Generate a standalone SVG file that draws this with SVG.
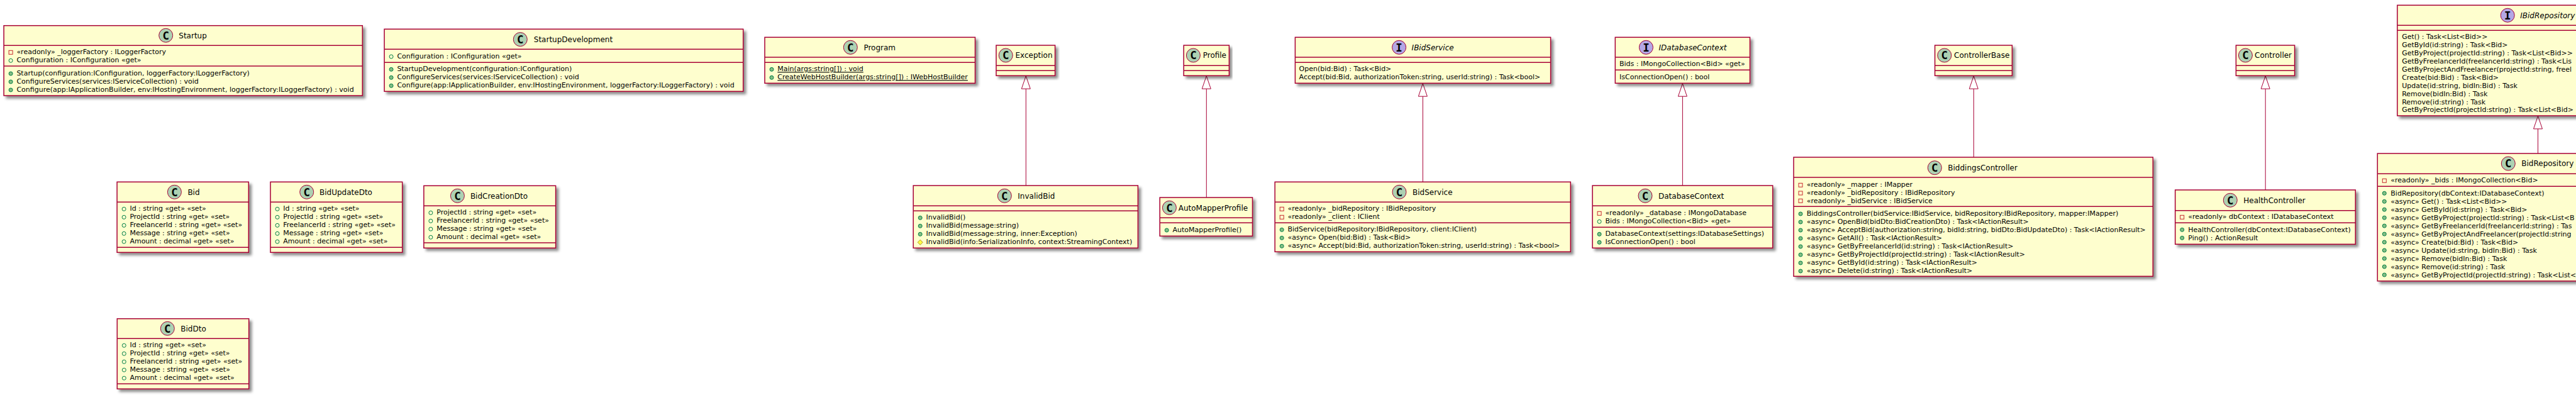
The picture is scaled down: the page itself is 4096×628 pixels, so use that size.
<svg xmlns="http://www.w3.org/2000/svg" width="4096" height="628" viewBox="0 0 4096 628">
<style>
text{font-family:"DejaVu Sans",sans-serif;fill:#000}
.b{fill:#FEFECE;stroke:#A80036;stroke-width:1.5;filter:url(#sh)}
.s{stroke:#A80036;stroke-width:1.5}
.c{fill:#ADD1B2;stroke:#A80036;stroke-width:1}
.i{fill:#B4A7E5;stroke:#A80036;stroke-width:1}
.g{font-family:"DejaVu Sans Mono",monospace;font-weight:700;font-size:17.5px;text-anchor:middle;transform:translateY(.9px)}
.t{font-size:12px}
.ti{font-size:12px;font-style:italic}
.m{font-size:11px}
.u{font-size:11px;text-decoration:underline}
.e{stroke:#A80036;stroke-width:1;fill:none;marker-end:url(#ext)}
</style>
<defs>
<filter id="sh" x="-5%" y="-10%" width="112%" height="125%"><feDropShadow dx="4" dy="4" stdDeviation="2" flood-color="#000" flood-opacity="0.45"/></filter>
<marker id="ext" markerUnits="userSpaceOnUse" markerWidth="23" markerHeight="16" viewBox="0 0 23 16" refX="21.5" refY="8" orient="auto"><path d="M1,1 L21.5,8 L1,15 Z" fill="#fff" stroke="#A80036" stroke-width="1"/></marker>
<rect id="pri" x="-3" y="-3" width="6" height="6" fill="none" stroke="#C82930"/>
<circle id="fld" r="3" fill="none" stroke="#038048"/>
<circle id="pub" r="3" fill="#84BE84" stroke="#038048"/>
<polygon id="pro" points="0,-4 4,0 0,4 -4,0" fill="#FFFF44" stroke="#B38D22"/>
</defs>
<g id="connectors">
<line class="e" x1="1631.3" y1="295" x2="1631.3" y2="120.7"/>
<line class="e" x1="1918.3" y1="314" x2="1918.3" y2="120.7"/>
<line class="e" x1="2262.4" y1="289.3" x2="2262.4" y2="132.7"/>
<line class="e" x1="2675.4" y1="295" x2="2675.4" y2="132.7"/>
<line class="e" x1="3138.3" y1="250" x2="3138.3" y2="120.7"/>
<line class="e" x1="3602.2" y1="302" x2="3602.2" y2="120.7"/>
<line class="e" x1="4035.5" y1="244" x2="4035.5" y2="184.4"/>
</g>
<g id="Startup">
<rect class="b" x="6.1" y="40.7" width="570.2" height="111.3"/>
<line class="s" x1="6.1" y1="72.3" x2="576.3" y2="72.3"/><line class="s" x1="6.1" y1="105" x2="576.3" y2="105"/>
<circle class="c" cx="263.7" cy="56.3" r="11"/><text class="g" x="263.7" y="61.8">C</text>
<text class="t" x="284.3" y="60.7">Startup</text>
<use href="#pri" x="17.1" y="83.3"/><text class="m" x="26.4" y="86.3">«readonly» _loggerFactory : ILoggerFactory</text>
<use href="#fld" x="17.1" y="96.3"/><text class="m" x="26.4" y="99.3">Configuration : IConfiguration «get»</text>
<use href="#pub" x="17.1" y="117"/><text class="m" x="26.4" y="120">Startup(configuration:IConfiguration, loggerFactory:ILoggerFactory)</text>
<use href="#pub" x="17.1" y="130"/><text class="m" x="26.4" y="133">ConfigureServices(services:IServiceCollection) : void</text>
<use href="#pub" x="17.1" y="143"/><text class="m" x="26.4" y="146">Configure(app:IApplicationBuilder, env:IHostingEnvironment, loggerFactory:ILoggerFactory) : void</text>
</g>
<g id="StartupDevelopment">
<rect class="b" x="611.1" y="46.3" width="570.6" height="99"/>
<line class="s" x1="611.1" y1="78.3" x2="1181.7" y2="78.3"/><line class="s" x1="611.1" y1="99.3" x2="1181.7" y2="99.3"/>
<circle class="c" cx="827.3" cy="62.6" r="11"/><text class="g" x="827.3" y="68.1">C</text>
<text class="t" x="848.8" y="67">StartupDevelopment</text>
<use href="#fld" x="622.1" y="90"/><text class="m" x="631.4" y="93">Configuration : IConfiguration «get»</text>
<use href="#pub" x="622.1" y="110.3"/><text class="m" x="631.4" y="113.3">StartupDevelopment(configuration:IConfiguration)</text>
<use href="#pub" x="622.1" y="123.3"/><text class="m" x="631.4" y="126.3">ConfigureServices(services:IServiceCollection) : void</text>
<use href="#pub" x="622.1" y="136.3"/><text class="m" x="631.4" y="139.3">Configure(app:IApplicationBuilder, env:IHostingEnvironment, loggerFactory:ILoggerFactory) : void</text>
</g>
<g id="Program">
<rect class="b" x="1216" y="59.3" width="334.5" height="73"/>
<line class="s" x1="1216" y1="91" x2="1550.5" y2="91"/><line class="s" x1="1216" y1="99.3" x2="1550.5" y2="99.3"/>
<circle class="c" cx="1352.3" cy="75.3" r="11"/><text class="g" x="1352.3" y="80.8">C</text>
<text class="t" x="1373.4" y="79.7">Program</text>
<use href="#pub" x="1227" y="110.3"/><text class="u" x="1236.3" y="113.3">Main(args:string[]) : void</text>
<use href="#pub" x="1227" y="123.3"/><text class="u" x="1236.3" y="126.3">CreateWebHostBuilder(args:string[]) : IWebHostBuilder</text>
</g>
<g id="Exception">
<rect class="b" x="1584" y="72" width="93.6" height="48.3"/>
<line class="s" x1="1584" y1="104.3" x2="1677.6" y2="104.3"/><line class="s" x1="1584" y1="112.3" x2="1677.6" y2="112.3"/>
<circle class="c" cx="1599.2" cy="88" r="11"/><text class="g" x="1599.2" y="93.5">C</text>
<text class="t" x="1614.5" y="92.4">Exception</text>
</g>
<g id="Profile">
<rect class="b" x="1882.2" y="72" width="72.2" height="48.3"/>
<line class="s" x1="1882.2" y1="104.3" x2="1954.4" y2="104.3"/><line class="s" x1="1882.2" y1="112.3" x2="1954.4" y2="112.3"/>
<circle class="c" cx="1897.4" cy="88" r="11"/><text class="g" x="1897.4" y="93.5">C</text>
<text class="t" x="1912.7" y="92.4">Profile</text>
</g>
<g id="IBidService">
<rect class="b" x="2059.4" y="59.3" width="406.2" height="73"/>
<line class="s" x1="2059.4" y1="91" x2="2465.6" y2="91"/><line class="s" x1="2059.4" y1="99.3" x2="2465.6" y2="99.3"/>
<circle class="i" cx="2224.6" cy="75.3" r="11"/><text class="g" x="2224.6" y="80.8">I</text>
<text class="ti" x="2244.6" y="79.7">IBidService</text>
<text class="m" x="2065.6" y="113.3">Open(bid:Bid) : Task&lt;Bid&gt;</text>
<text class="m" x="2065.6" y="126.3">Accept(bid:Bid, authorizationToken:string, userId:string) : Task&lt;bool&gt;</text>
</g>
<g id="IDatabaseContext">
<rect class="b" x="2568.3" y="59.3" width="214.2" height="73"/>
<line class="s" x1="2568.3" y1="91" x2="2782.5" y2="91"/><line class="s" x1="2568.3" y1="111.3" x2="2782.5" y2="111.3"/>
<circle class="i" cx="2617.4" cy="75.3" r="11"/><text class="g" x="2617.4" y="80.8">I</text>
<text class="ti" x="2637.5" y="79.7">IDatabaseContext</text>
<text class="m" x="2575" y="105">Bids : IMongoCollection&lt;Bid&gt; «get»</text>
<text class="m" x="2575" y="126.3">IsConnectionOpen() : bool</text>
</g>
<g id="ControllerBase">
<rect class="b" x="3076.6" y="72" width="122.8" height="48.3"/>
<line class="s" x1="3076.6" y1="104.3" x2="3199.4" y2="104.3"/><line class="s" x1="3076.6" y1="112.3" x2="3199.4" y2="112.3"/>
<circle class="c" cx="3091.8" cy="88" r="11"/><text class="g" x="3091.8" y="93.5">C</text>
<text class="t" x="3107.1" y="92.4">ControllerBase</text>
</g>
<g id="Controller">
<rect class="b" x="3555.4" y="72" width="93.2" height="48.3"/>
<line class="s" x1="3555.4" y1="104.3" x2="3648.6" y2="104.3"/><line class="s" x1="3555.4" y1="112.3" x2="3648.6" y2="112.3"/>
<circle class="c" cx="3570.4" cy="88" r="11"/><text class="g" x="3570.4" y="93.5">C</text>
<text class="t" x="3585" y="92.4">Controller</text>
</g>
<g id="IBidRepository">
<rect class="b" x="3811.9" y="8.3" width="446.6" height="175.7"/>
<line class="s" x1="3811.9" y1="40.3" x2="4258.5" y2="40.3"/><line class="s" x1="3811.9" y1="48.3" x2="4258.5" y2="48.3"/>
<circle class="i" cx="3987.2" cy="24.3" r="11"/><text class="g" x="3987.2" y="29.8">I</text>
<text class="ti" x="4007.2" y="28.7">IBidRepository</text>
<text class="m" x="3819.2" y="62.3">Get() : Task&lt;List&lt;Bid&gt;&gt;</text>
<text class="m" x="3819.2" y="75.3">GetById(id:string) : Task&lt;Bid&gt;</text>
<text class="m" x="3819.2" y="88.2">GetByProject(projectId:string) : Task&lt;List&lt;Bid&gt;&gt;</text>
<text class="m" x="3819.2" y="101.2">GetByFreelancerId(freelancerId:string) : Task&lt;Lis</text>
<text class="m" x="3819.2" y="114.1">GetByProjectAndFreelancer(projectId:string, freel</text>
<text class="m" x="3819.2" y="127.1">Create(bid:Bid) : Task&lt;Bid&gt;</text>
<text class="m" x="3819.2" y="140">Update(id:string, bidIn:Bid) : Task</text>
<text class="m" x="3819.2" y="153">Remove(bidIn:Bid) : Task</text>
<text class="m" x="3819.2" y="166">Remove(id:string) : Task</text>
<text class="m" x="3819.2" y="178">GetByProjectId(projectId:string) : Task&lt;List&lt;Bid&gt;</text>
</g>
<g id="Bid">
<rect class="b" x="186.1" y="289.3" width="209.2" height="112"/>
<line class="s" x1="186.1" y1="321.3" x2="395.3" y2="321.3"/><line class="s" x1="186.1" y1="393.3" x2="395.3" y2="393.3"/>
<circle class="c" cx="277.4" cy="305.3" r="11"/><text class="g" x="277.4" y="310.8">C</text>
<text class="t" x="298.4" y="309.7">Bid</text>
<use href="#fld" x="197.1" y="332.3"/><text class="m" x="206.4" y="335.3">Id : string «get» «set»</text>
<use href="#fld" x="197.1" y="345.3"/><text class="m" x="206.4" y="348.3">ProjectId : string «get» «set»</text>
<use href="#fld" x="197.1" y="358.3"/><text class="m" x="206.4" y="361.3">FreelancerId : string «get» «set»</text>
<use href="#fld" x="197.1" y="371.3"/><text class="m" x="206.4" y="374.3">Message : string «get» «set»</text>
<use href="#fld" x="197.1" y="384.2"/><text class="m" x="206.4" y="387.2">Amount : decimal «get» «set»</text>
</g>
<g id="BidUpdateDto">
<rect class="b" x="430" y="289.3" width="209.7" height="112"/>
<line class="s" x1="430" y1="321.3" x2="639.7" y2="321.3"/><line class="s" x1="430" y1="393.3" x2="639.7" y2="393.3"/>
<circle class="c" cx="487.7" cy="305.3" r="11"/><text class="g" x="487.7" y="310.8">C</text>
<text class="t" x="508" y="309.7">BidUpdateDto</text>
<use href="#fld" x="441" y="332.3"/><text class="m" x="450.3" y="335.3">Id : string «get» «set»</text>
<use href="#fld" x="441" y="345.3"/><text class="m" x="450.3" y="348.3">ProjectId : string «get» «set»</text>
<use href="#fld" x="441" y="358.3"/><text class="m" x="450.3" y="361.3">FreelancerId : string «get» «set»</text>
<use href="#fld" x="441" y="371.3"/><text class="m" x="450.3" y="374.3">Message : string «get» «set»</text>
<use href="#fld" x="441" y="384.2"/><text class="m" x="450.3" y="387.2">Amount : decimal «get» «set»</text>
</g>
<g id="BidCreationDto">
<rect class="b" x="673.9" y="295.3" width="209.7" height="99"/>
<line class="s" x1="673.9" y1="327.3" x2="883.6" y2="327.3"/><line class="s" x1="673.9" y1="386" x2="883.6" y2="386"/>
<circle class="c" cx="727.4" cy="311.3" r="11"/><text class="g" x="727.4" y="316.8">C</text>
<text class="t" x="747.9" y="315.7">BidCreationDto</text>
<use href="#fld" x="684.9" y="338.3"/><text class="m" x="694.2" y="341.3">ProjectId : string «get» «set»</text>
<use href="#fld" x="684.9" y="351.3"/><text class="m" x="694.2" y="354.3">FreelancerId : string «get» «set»</text>
<use href="#fld" x="684.9" y="364.2"/><text class="m" x="694.2" y="367.2">Message : string «get» «set»</text>
<use href="#fld" x="684.9" y="377.2"/><text class="m" x="694.2" y="380.2">Amount : decimal «get» «set»</text>
</g>
<g id="BidDto">
<rect class="b" x="186.3" y="506.7" width="209.4" height="111.6"/>
<line class="s" x1="186.3" y1="538.3" x2="395.7" y2="538.3"/><line class="s" x1="186.3" y1="610.3" x2="395.7" y2="610.3"/>
<circle class="c" cx="266.3" cy="522.3" r="11"/><text class="g" x="266.3" y="527.8">C</text>
<text class="t" x="287.3" y="526.7">BidDto</text>
<use href="#fld" x="197.3" y="549.3"/><text class="m" x="206.6" y="552.3">Id : string «get» «set»</text>
<use href="#fld" x="197.3" y="562.3"/><text class="m" x="206.6" y="565.3">ProjectId : string «get» «set»</text>
<use href="#fld" x="197.3" y="575.2"/><text class="m" x="206.6" y="578.2">FreelancerId : string «get» «set»</text>
<use href="#fld" x="197.3" y="588.2"/><text class="m" x="206.6" y="591.2">Message : string «get» «set»</text>
<use href="#fld" x="197.3" y="601.2"/><text class="m" x="206.6" y="604.2">Amount : decimal «get» «set»</text>
</g>
<g id="InvalidBid">
<rect class="b" x="1452.2" y="295" width="357.2" height="99.3"/>
<line class="s" x1="1452.2" y1="327.3" x2="1809.4" y2="327.3"/><line class="s" x1="1452.2" y1="335.3" x2="1809.4" y2="335.3"/>
<circle class="c" cx="1597.3" cy="311.3" r="11"/><text class="g" x="1597.3" y="316.8">C</text>
<text class="t" x="1618.3" y="315.7">InvalidBid</text>
<use href="#pub" x="1463.2" y="346.3"/><text class="m" x="1472.5" y="349.3">InvalidBid()</text>
<use href="#pub" x="1463.2" y="359.3"/><text class="m" x="1472.5" y="362.3">InvalidBid(message:string)</text>
<use href="#pub" x="1463.2" y="372.3"/><text class="m" x="1472.5" y="375.3">InvalidBid(message:string, inner:Exception)</text>
<use href="#pro" x="1463.2" y="385.3"/><text class="m" x="1472.5" y="388.3">InvalidBid(info:SerializationInfo, context:StreamingContext)</text>
</g>
<g id="AutoMapperProfile">
<rect class="b" x="1844.2" y="314" width="147.3" height="61.3"/>
<line class="s" x1="1844.2" y1="346.3" x2="1991.5" y2="346.3"/><line class="s" x1="1844.2" y1="354.3" x2="1991.5" y2="354.3"/>
<circle class="c" cx="1859.4" cy="330.3" r="11"/><text class="g" x="1859.4" y="335.8">C</text>
<text class="t" x="1873.7" y="334.7">AutoMapperProfile</text>
<use href="#pub" x="1855.2" y="366"/><text class="m" x="1864.5" y="369.3">AutoMapperProfile()</text>
</g>
<g id="BidService">
<rect class="b" x="2027.2" y="289.3" width="470.1" height="111"/>
<line class="s" x1="2027.2" y1="321.3" x2="2497.3" y2="321.3"/><line class="s" x1="2027.2" y1="354.3" x2="2497.3" y2="354.3"/>
<circle class="c" cx="2225" cy="305.3" r="11"/><text class="g" x="2225" y="310.8">C</text>
<text class="t" x="2246" y="309.7">BidService</text>
<use href="#pri" x="2038.2" y="332.3"/><text class="m" x="2047.5" y="335.3">«readonly» _bidRepository : IBidRepository</text>
<use href="#pri" x="2038.2" y="345.3"/><text class="m" x="2047.5" y="348.3">«readonly» _client : IClient</text>
<use href="#pub" x="2038.2" y="365.3"/><text class="m" x="2047.5" y="368.3">BidService(bidRepository:IBidRepository, client:IClient)</text>
<use href="#pub" x="2038.2" y="378.3"/><text class="m" x="2047.5" y="381.3">«async» Open(bid:Bid) : Task&lt;Bid&gt;</text>
<use href="#pub" x="2038.2" y="391.3"/><text class="m" x="2047.5" y="394.3">«async» Accept(bid:Bid, authorizationToken:string, userId:string) : Task&lt;bool&gt;</text>
</g>
<g id="DatabaseContext">
<rect class="b" x="2532.1" y="295" width="286.6" height="99.3"/>
<line class="s" x1="2532.1" y1="327.3" x2="2818.7" y2="327.3"/><line class="s" x1="2532.1" y1="361.3" x2="2818.7" y2="361.3"/>
<circle class="c" cx="2616" cy="311.3" r="11"/><text class="g" x="2616" y="316.8">C</text>
<text class="t" x="2637" y="315.7">DatabaseContext</text>
<use href="#pri" x="2543.1" y="339.3"/><text class="m" x="2552.4" y="342.3">«readonly» _database : IMongoDatabase</text>
<use href="#fld" x="2543.1" y="352.3"/><text class="m" x="2552.4" y="355.3">Bids : IMongoCollection&lt;Bid&gt; «get»</text>
<use href="#pub" x="2543.1" y="372.3"/><text class="m" x="2552.4" y="375.3">DatabaseContext(settings:IDatabaseSettings)</text>
<use href="#pub" x="2543.1" y="385.3"/><text class="m" x="2552.4" y="388.3">IsConnectionOpen() : bool</text>
</g>
<g id="BiddingsController">
<rect class="b" x="2852" y="250" width="571.3" height="189.3"/>
<line class="s" x1="2852" y1="282" x2="3423.3" y2="282"/><line class="s" x1="2852" y1="328.3" x2="3423.3" y2="328.3"/>
<circle class="c" cx="3076.3" cy="266.7" r="11"/><text class="g" x="3076.3" y="272.2">C</text>
<text class="t" x="3097.3" y="271">BiddingsController</text>
<use href="#pri" x="2863" y="294.3"/><text class="m" x="2872.7" y="297.3">«readonly» _mapper : IMapper</text>
<use href="#pri" x="2863" y="307"/><text class="m" x="2872.7" y="310">«readonly» _bidRepository : IBidRepository</text>
<use href="#pri" x="2863" y="319.3"/><text class="m" x="2872.7" y="322.6">«readonly» _bidService : IBidService</text>
<use href="#pub" x="2863" y="340"/><text class="m" x="2872.7" y="343.3">BiddingsController(bidService:IBidService, bidRepository:IBidRepository, mapper:IMapper)</text>
<use href="#pub" x="2863" y="353"/><text class="m" x="2872.7" y="356.4">«async» OpenBid(bidDto:BidCreationDto) : Task&lt;IActionResult&gt;</text>
<use href="#pub" x="2863" y="366"/><text class="m" x="2872.7" y="369.4">«async» AcceptBid(authorization:string, bidId:string, bidDto:BidUpdateDto) : Task&lt;IActionResult&gt;</text>
<use href="#pub" x="2863" y="379"/><text class="m" x="2872.7" y="382.3">«async» GetAll() : Task&lt;IActionResult&gt;</text>
<use href="#pub" x="2863" y="392"/><text class="m" x="2872.7" y="395.3">«async» GetByFreelancerId(id:string) : Task&lt;IActionResult&gt;</text>
<use href="#pub" x="2863" y="405"/><text class="m" x="2872.7" y="408.3">«async» GetByProjectId(projectId:string) : Task&lt;IActionResult&gt;</text>
<use href="#pub" x="2863" y="418"/><text class="m" x="2872.7" y="421.3">«async» GetById(id:string) : Task&lt;IActionResult&gt;</text>
<use href="#pub" x="2863" y="431"/><text class="m" x="2872.7" y="434">«async» Delete(id:string) : Task&lt;IActionResult&gt;</text>
</g>
<g id="HealthController">
<rect class="b" x="3458.7" y="302" width="286.6" height="86.3"/>
<line class="s" x1="3458.7" y1="334.7" x2="3745.3" y2="334.7"/><line class="s" x1="3458.7" y1="354.3" x2="3745.3" y2="354.3"/>
<circle class="c" cx="3546.3" cy="318.3" r="11"/><text class="g" x="3546.3" y="323.8">C</text>
<text class="t" x="3567.3" y="322.7">HealthController</text>
<use href="#pri" x="3469.7" y="345.3"/><text class="m" x="3479.3" y="348.3">«readonly» dbContext : IDatabaseContext</text>
<use href="#pub" x="3469.7" y="365.3"/><text class="m" x="3479.3" y="369.3">HealthController(dbContext:IDatabaseContext)</text>
<use href="#pub" x="3469.7" y="378.3"/><text class="m" x="3479.3" y="382.3">Ping() : ActionResult</text>
</g>
<g id="BidRepository">
<rect class="b" x="3780.3" y="244" width="510.4" height="202.8"/>
<line class="s" x1="3780.3" y1="276.3" x2="4290.7" y2="276.3"/><line class="s" x1="3780.3" y1="296.3" x2="4290.7" y2="296.3"/>
<circle class="c" cx="3988.3" cy="260" r="11"/><text class="g" x="3988.3" y="265.5">C</text>
<text class="t" x="4009.3" y="264.4">BidRepository</text>
<use href="#pri" x="3791.3" y="287.3"/><text class="m" x="3801.3" y="290.3">«readonly» _bids : IMongoCollection&lt;Bid&gt;</text>
<use href="#pub" x="3791.3" y="307.3"/><text class="m" x="3801.3" y="311.3">BidRepository(dbContext:IDatabaseContext)</text>
<use href="#pub" x="3791.3" y="320.3"/><text class="m" x="3801.3" y="324.3">«async» Get() : Task&lt;List&lt;Bid&gt;&gt;</text>
<use href="#pub" x="3791.3" y="333.2"/><text class="m" x="3801.3" y="337.2">«async» GetById(id:string) : Task&lt;Bid&gt;</text>
<use href="#pub" x="3791.3" y="346.2"/><text class="m" x="3801.3" y="350.2">«async» GetByProject(projectId:string) : Task&lt;List&lt;B</text>
<use href="#pub" x="3791.3" y="359.1"/><text class="m" x="3801.3" y="363.1">«async» GetByFreelancerId(freelancerId:string) : Tas</text>
<use href="#pub" x="3791.3" y="372.1"/><text class="m" x="3801.3" y="376.1">«async» GetByProjectAndFreelancer(projectId:string</text>
<use href="#pub" x="3791.3" y="385"/><text class="m" x="3801.3" y="389">«async» Create(bid:Bid) : Task&lt;Bid&gt;</text>
<use href="#pub" x="3791.3" y="398"/><text class="m" x="3801.3" y="402">«async» Update(id:string, bidIn:Bid) : Task</text>
<use href="#pub" x="3791.3" y="411"/><text class="m" x="3801.3" y="415">«async» Remove(bidIn:Bid) : Task</text>
<use href="#pub" x="3791.3" y="424"/><text class="m" x="3801.3" y="428">«async» Remove(id:string) : Task</text>
<use href="#pub" x="3791.3" y="437"/><text class="m" x="3801.3" y="441">«async» GetByProjectId(projectId:string) : Task&lt;List&lt;</text>
</g>
</svg>
